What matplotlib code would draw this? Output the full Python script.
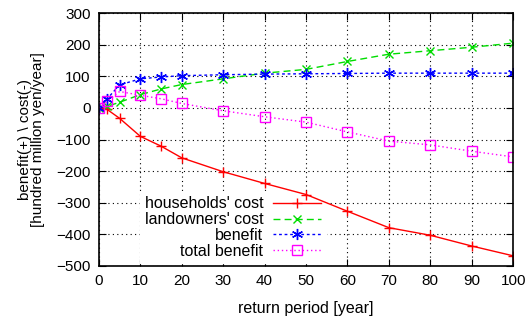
import matplotlib
matplotlib.use("Agg")
import matplotlib.pyplot as plt

plt.rcParams['font.family'] = ['Liberation Sans', 'DejaVu Sans']

# return period [year]
period = [0, 2, 5, 10, 15, 20, 30, 40, 50, 60, 70, 80, 90, 100]

households = [0, -5, -33, -90, -121, -158, -202, -239, -274, -327, -379, -403, -437, -468]
landowners = [0, 5, 18, 42, 60, 74, 92, 110, 122, 147, 170, 181, 192, 205]
benefit = [0, 29, 73, 92, 98, 102, 105, 107, 108, 109, 110, 110, 110, 110]
total = [0, 21, 52, 40, 29, 14, -9, -28, -45, -76, -105, -117, -137, -155]

labels = ["households' cost", "landowners' cost", "benefit", "total benefit"]

fig = plt.figure(figsize=(5.29, 3.2), dpi=100)
ax = fig.add_axes([0.187, 0.169, 0.783, 0.790])

ax.plot(period, households, color='#ff0000', ls='-', lw=1, marker='+', ms=7, mew=1, label=labels[0])
ax.plot(period, landowners, color='#00dd00', ls=(0, (5, 3)), lw=1, marker='x', ms=6, mew=1, label=labels[1])
ax.plot(period, benefit, color='#0000ff', ls=(0, (2, 2)), lw=1, marker=(6, 2, 0), ms=8, mew=1, label=labels[2])
ax.plot(period, total, color='#ff00ff', ls=(0, (1, 2)), lw=1, marker='s', ms=7, mew=1,
        mfc='none', label=labels[3])

ax.set_xlim(0, 100)
ax.set_ylim(-500, 300)
ax.set_xticks(range(0, 101, 10))
ax.set_yticks(range(-500, 301, 100))
ax.tick_params(direction='in', top=True, right=True, length=5, labelsize=11, pad=6)
ax.set_axisbelow(True)
ax.grid(True, color='black', ls=(0, (1, 3)), lw=0.8)
for s in ax.spines.values():
    s.set_linewidth(1.2)

ax.set_xlabel("return period [year]", fontsize=11.5, labelpad=9)
ax.set_ylabel("benefit(+) \\ cost(-)\n[hundred million yen/year]", fontsize=11, labelpad=8,
              linespacing=0.95)

leg = ax.legend(loc='lower left', bbox_to_anchor=(0.08, -0.022), markerfirst=False, frameon=True,
                framealpha=1, edgecolor='white', fancybox=False, fontsize=11.5,
                handlelength=3.0, labelspacing=0.05, borderpad=0.3, handletextpad=0.6)
for t in leg.get_texts():
    t.set_ha('right')
leg.set_zorder(1.5)

fig.savefig("out.png", dpi=100)
